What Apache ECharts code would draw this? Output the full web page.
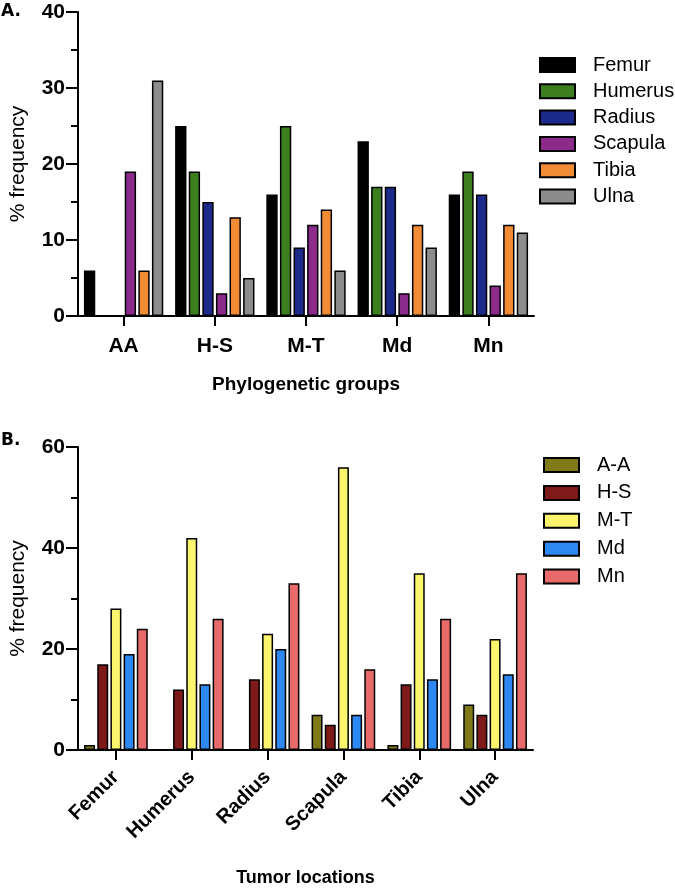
<!DOCTYPE html>
<html lang="en">
<head>
    <meta charset="UTF-8">
    <title>Tumor frequency</title>
    <style>
        html, body { margin: 0; padding: 0; background: #fff; }
        #app { width: 675px; height: 889px; }
    </style>
</head>
<body>
    <div id="app"></div>
</body>
<script src="https://cdn.jsdelivr.net/npm/echarts@6/dist/echarts.min.js"></script>
<script>
    // panel A: % frequency of each bone per phylogenetic group
    var groupsA = ['AA', 'H-S', 'M-T', 'Md', 'Mn'];
    var femurA   = [6, 25, 16, 23, 16];
    var humerusA = [0, 19, 25, 17, 19];
    var radiusA  = [0, 15, 9, 17, 16];
    var scapulaA = [19, 3, 12, 3, 4];
    var tibiaA   = [6, 13, 14, 12, 12];
    var ulnaA    = [31, 5, 6, 9, 11];
    var ticksA = [0, 10, 20, 30, 40];

    // panel B: % frequency of each group per tumor location
    var locationsB = ['Femur', 'Humerus', 'Radius', 'Scapula', 'Tibia', 'Ulna'];
    var aaB = [1, 0, 0, 7, 1, 9];
    var hsB = [17, 12, 14, 5, 13, 7];
    var mtB = [28, 42, 23, 56, 35, 22];
    var mdB = [19, 13, 20, 7, 14, 15];
    var mnB = [24, 26, 33, 16, 26, 35];
    var ticksB = [0, 20, 40, 60];

    var font = '"Liberation Sans", Arial, Helvetica, sans-serif';

    var seriesA = [
        { name: 'Femur', data: femurA, color: '#000000' },
        { name: 'Humerus', data: humerusA, color: '#3d7f1e' },
        { name: 'Radius', data: radiusA, color: '#1c2a8c' },
        { name: 'Scapula', data: scapulaA, color: '#8c2a8c' },
        { name: 'Tibia', data: tibiaA, color: '#f28c34' },
        { name: 'Ulna', data: ulnaA, color: '#8c8c8c' }
    ];
    var seriesB = [
        { name: 'A-A', data: aaB, color: '#7f7a17' },
        { name: 'H-S', data: hsB, color: '#7f1a1a' },
        { name: 'M-T', data: mtB, color: '#fbf56e' },
        { name: 'Md', data: mdB, color: '#2d88f2' },
        { name: 'Mn', data: mnB, color: '#e86a6a' }
    ];

    function barSeries(s, idx, catGap) {
        return {
            type: 'bar',
            name: s.name,
            data: s.data,
            xAxisIndex: idx,
            yAxisIndex: idx,
            barGap: '20%',
            barCategoryGap: catGap,
            itemStyle: { color: s.color, borderColor: '#000', borderWidth: 1.5 }
        };
    }

    var axisLine = { show: true, lineStyle: { color: '#000', width: 2 } };
    var xTick = { show: true, alignWithLabel: true, length: 10, lineStyle: { width: 2, color: '#000' } };

    function yAxis(idx, ticks) {
        var step = ticks[1] - ticks[0];
        return {
            type: 'value',
            gridIndex: idx,
            min: ticks[0],
            max: ticks[ticks.length - 1],
            interval: step,
            name: '% frequency',
            nameLocation: 'middle',
            nameGap: 49,
            nameTextStyle: { fontFamily: font, fontSize: 21, color: '#000' },
            axisLine: axisLine,
            axisTick: { show: true, length: 12, lineStyle: { width: 2, color: '#000' } },
            minorTick: { show: true, splitNumber: 2, length: 7, lineStyle: { width: 2, color: '#000' } },
            axisLabel: { fontFamily: font, fontSize: 21, fontWeight: 'bold', color: '#000', margin: 13 },
            splitLine: { show: false }
        };
    }

    function legend(names, top, left, gap) {
        return {
            data: names,
            orient: 'vertical', left: left, top: top, padding: 0,
            icon: 'rect',
            itemWidth: 35, itemHeight: 14, itemGap: gap,
            textStyle: { fontFamily: font, fontSize: 20, color: '#000', padding: [0, 0, 0, 13] }
        };
    }

    var chart = echarts.init(document.getElementById('app'));
    var option = {
        animation: false,
        backgroundColor: '#fff',
        grid: [
            { left: 74, top: 12, width: 460, height: 304 },
            { left: 74, top: 447, width: 459, height: 303 }
        ],
        graphic: [
            { type: 'text', left: 1, top: 3, style: { text: 'A.', font: 'bold 17px "DejaVu Sans", sans-serif', fill: '#000' } },
            { type: 'text', left: 1, top: 432, style: { text: 'B.', font: 'bold 17px "DejaVu Sans", sans-serif', fill: '#000' } }
        ],
        legend: [
            legend(seriesA.map(function (s) { return s.name; }), 55, 539, 6.3),
            legend(seriesB.map(function (s) { return s.name; }), 455, 543, 7.9)
        ],
        xAxis: [
            {
                type: 'category', gridIndex: 0, data: groupsA,
                name: 'Phylogenetic groups', nameLocation: 'middle', nameGap: 59,
                nameTextStyle: { fontFamily: font, fontSize: 19, fontWeight: 'bold', color: '#000' },
                axisLine: axisLine,
                axisTick: xTick,
                axisLabel: { fontFamily: font, fontSize: 21, fontWeight: 'bold', color: '#000', margin: 20 }
            },
            {
                type: 'category', gridIndex: 1, data: locationsB,
                name: 'Tumor locations', nameLocation: 'middle', nameGap: 119,
                nameTextStyle: { fontFamily: font, fontSize: 18, fontWeight: 'bold', color: '#000' },
                axisLine: axisLine,
                axisTick: xTick,
                axisLabel: { fontFamily: font, fontSize: 20, fontWeight: 'bold', color: '#000', rotate: 45, margin: 24, interval: 0 }
            }
        ],
        yAxis: [
            yAxis(0, ticksA),
            yAxis(1, ticksB)
        ],
        series: seriesA.map(function (s) { return barSeries(s, 0, '13%'); })
            .concat(seriesB.map(function (s) { return barSeries(s, 1, '16%'); }))
    };
    chart.setOption(option);
</script>
</html>
